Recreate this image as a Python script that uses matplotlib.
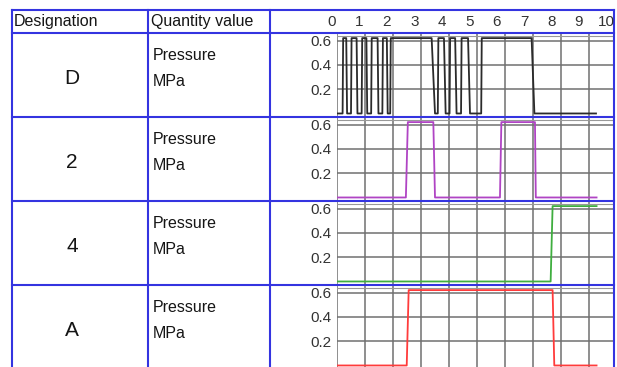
import matplotlib.pyplot as plt
from matplotlib.transforms import blended_transform_factory

plt.rcParams['font.family'] = ['Liberation Sans', 'DejaVu Sans']

# Data
designations = ["D", "2", "4", "A"]
quantity = ["Pressure", "MPa"]
x_ticks = list(range(0, 11))
y_ticks = [0.2, 0.4, 0.6]

d_time = [0, 0.2, 0.22, 0.33, 0.36, 0.5, 0.52, 0.7, 0.73, 0.88, 0.9, 1.05, 1.08,
          1.22, 1.24, 1.45, 1.48, 1.62, 1.64, 1.78, 1.81, 1.9, 1.92, 3.38, 3.5,
          3.6, 3.62, 3.82, 3.88, 4.02, 4.04, 4.22, 4.27, 4.43, 4.45, 4.68, 4.75,
          5.15, 5.17, 6.95, 7.05, 9.25]
d_value = [0, 0, 0.62, 0.62, 0, 0, 0.62, 0.62, 0, 0, 0.62, 0.62, 0,
           0, 0.62, 0.62, 0, 0, 0.62, 0.62, 0, 0, 0.62, 0.62, 0,
           0, 0.62, 0.62, 0, 0, 0.62, 0.62, 0, 0, 0.62, 0.62, 0,
           0, 0.62, 0.62, 0, 0]

p2_time = [0, 2.46, 2.53, 3.44, 3.5, 5.82, 5.87, 7.07, 7.1, 9.27]
p2_value = [0, 0, 0.62, 0.62, 0, 0, 0.62, 0.62, 0, 0]

p4_time = [0, 7.63, 7.7, 9.27]
p4_value = [0, 0, 0.62, 0.62]

pa_time = [0, 2.49, 2.56, 7.7, 7.76, 9.27]
pa_value = [0, 0, 0.62, 0.62, 0, 0]

series = [(d_time, d_value, "#2b2b2b"),
          (p2_time, p2_value, "#b044c4"),
          (p4_time, p4_value, "#3fae3f"),
          (pa_time, pa_value, "#ff3b3b")]

# Layout (pixels)
W, H = 617, 367
row_edges = [10, 33, 117, 201, 285, 369]
col_edges = [12, 148, 270, 614]
plot_left = 337
px_per_unit = 28.0
blue = "#3434e0"
text_color = "#151515"

fig = plt.figure(figsize=(W / 100, H / 100), dpi=100)

bg = fig.add_axes([0, 0, 1, 1])
bg.set_xlim(0, W)
bg.set_ylim(H, 0)
bg.axis("off")
bg.set_zorder(10)

axes = []
for i, (t, v, color) in enumerate(series):
    top, bottom = row_edges[i + 1], row_edges[i + 2]
    ax = fig.add_axes([plot_left / W, 1 - bottom / H,
                       (col_edges[3] - plot_left) / W, (bottom - top) / H])
    ax.plot(t, v, color=color, lw=1.3, zorder=3)
    ax.set_xlim(0, (col_edges[3] - plot_left) / px_per_unit)
    ax.set_ylim(-0.029, 0.662)
    ax.set_xticks(x_ticks[:10])
    ax.set_yticks(y_ticks)
    ax.set_yticklabels([f"{y:.1f}" for y in y_ticks])
    ax.tick_params(axis="x", length=0, labelbottom=False)
    ax.tick_params(axis="y", length=0, pad=4, labelsize=11, labelcolor="#333333")
    ax.grid(True, color="#707070", lw=1.1)
    ax.axhline(0.635, color="#999999", lw=0.8)
    for s in ax.spines.values():
        s.set_visible(False)
    axes.append(ax)

    # left table text
    bg.text(72, top + 45, designations[i], ha="center", va="center",
            fontsize=15, color=text_color)
    bg.text(153, top + 22, quantity[0], ha="left", va="center",
            fontsize=11.5, color=text_color)
    bg.text(153, top + 48, quantity[1], ha="left", va="center",
            fontsize=11.5, color=text_color)

# header
bg.text(14, 21.5, "Designation", ha="left", va="center", fontsize=11.5, color=text_color)
bg.text(151, 21.5, "Quantity value", ha="left", va="center", fontsize=11.5, color=text_color)
hdr = blended_transform_factory(axes[0].transData, bg.transData)
for x in x_ticks:
    bg.text(x * 0.98 - 0.18, 21.5, str(x), transform=hdr, ha="center", va="center",
            fontsize=11, color="#333333")

# table borders
for y in row_edges:
    bg.plot([col_edges[0], col_edges[-1]], [y, y], color=blue, lw=1.5)
for x in col_edges:
    bg.plot([x, x], [row_edges[0], row_edges[-1]], color=blue, lw=1.5)

fig.savefig("out.png", dpi=100)
